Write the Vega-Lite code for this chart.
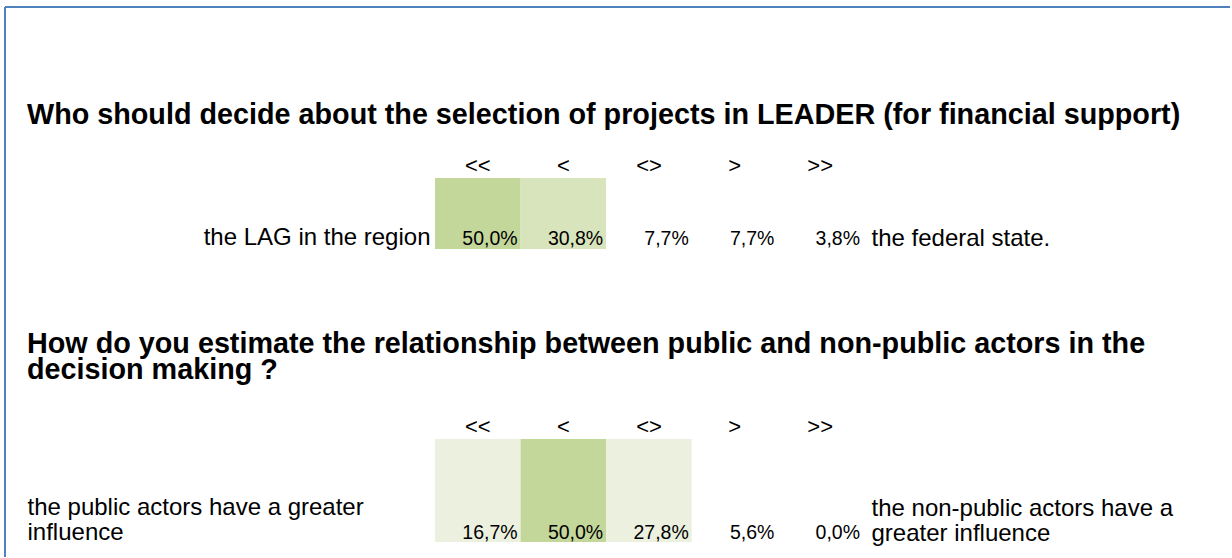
{
  "$schema": "https://vega.github.io/schema/vega-lite/v6.json",
  "background": "white",
  "padding": {"left": 4, "top": 6, "right": 0, "bottom": 0},
  "datasets": {
    "q1": [
      {"cat": "<<", "share": 0.5, "left": "the LAG in the region", "right": "the federal state."},
      {"cat": "<", "share": 0.308, "left": "the LAG in the region", "right": "the federal state."},
      {"cat": "<>", "share": 0.077, "left": "the LAG in the region", "right": "the federal state."},
      {"cat": ">", "share": 0.077, "left": "the LAG in the region", "right": "the federal state."},
      {"cat": ">>", "share": 0.038, "left": "the LAG in the region", "right": "the federal state."}
    ],
    "q2": [
      {"cat": "<<", "share": 0.167, "left": "the public actors have a greater|influence", "right": "the non-public actors have a|greater influence"},
      {"cat": "<", "share": 0.5, "left": "the public actors have a greater|influence", "right": "the non-public actors have a|greater influence"},
      {"cat": "<>", "share": 0.278, "left": "the public actors have a greater|influence", "right": "the non-public actors have a|greater influence"},
      {"cat": ">", "share": 0.056, "left": "the public actors have a greater|influence", "right": "the non-public actors have a|greater influence"},
      {"cat": ">>", "share": 0.0, "left": "the public actors have a greater|influence", "right": "the non-public actors have a|greater influence"}
    ]
  },
  "config": {
    "view": {"stroke": null},
    "scale": {"bandPaddingInner": 0, "bandPaddingOuter": 0},
    "axis": {"domain": false, "ticks": false, "tickSize": 0, "grid": false, "labelFont": "Liberation Sans", "labelColor": "#000000", "labelLimit": 1200},
    "title": {"font": "Liberation Sans", "color": "#000000", "fontWeight": "bold", "fontSize": 28.75, "anchor": "start", "frame": "group", "limit": 1400},
    "text": {"font": "Liberation Sans"},
    "locale": {"number": {"decimal": ",", "thousands": ".", "grouping": [3], "currency": ["", " €"]}}
  },
  "bounds": "flush",
  "spacing": 170,
  "vconcat": [
    {
      "width": 1,
      "height": 1,
      "data": {"values": [{}]},
      "layer": [
        {
          "mark": {"type": "rule", "color": "#4f81bd", "strokeWidth": 2},
          "encoding": {
            "x": {"datum": 0, "type": "quantitative", "scale": {"domain": [0, 1], "range": [-430, 795]}, "axis": null},
            "y": {"datum": 0, "type": "quantitative", "scale": {"domain": [0, 1], "range": [550, 0]}, "axis": null},
            "y2": {"datum": 1}
          }
        },
        {
          "mark": {"type": "rule", "color": "#4f81bd", "strokeWidth": 2},
          "encoding": {
            "x": {"datum": 0, "type": "quantitative", "scale": {"domain": [0, 1], "range": [-430, 795]}, "axis": null},
            "x2": {"datum": 1},
            "y": {"datum": 1, "type": "quantitative", "scale": {"domain": [0, 1], "range": [550, 0]}, "axis": null}
          }
        }
      ]
    },
    {
      "bounds": "flush",
      "spacing": 190,
      "vconcat": [
        {
          "width": 428,
          "height": 71,
          "data": {"name": "q1"},
          "title": {"text": "Who should decide about the selection of projects  in LEADER (for financial support)", "dx": -408, "baseline": "bottom", "offset": -5},
          "layer": [
            {
              "mark": {"type": "rect"},
              "encoding": {
                "x": {"field": "cat", "type": "ordinal", "sort": ["<<", "<", "<>", ">", ">>"], "title": null, "axis": {"orient": "top", "labelAngle": 0, "labelFontSize": 22, "labelPadding": 6, "labelBaseline": "alphabetic"}},
                "y": {"field": "left", "type": "nominal", "title": null, "axis": {"orient": "left", "labelAlign": "right", "labelBaseline": "alphabetic", "labelPadding": 5, "labelFontSize": 24, "labelOffset": 31.5}},
                "color": {"field": "share", "type": "quantitative", "legend": null, "scale": {"type": "threshold", "domain": [0.1, 0.3, 0.45], "range": ["#ffffff", "#ebf1de", "#d8e4bc", "#c4d79b"]}}
              }
            },
            {
              "mark": {"type": "text", "align": "right", "baseline": "alphabetic", "dx": -3, "dy": 31.5, "fontSize": 19.5, "color": "#000000"},
              "encoding": {
                "x": {"field": "cat", "type": "ordinal", "sort": ["<<", "<", "<>", ">", ">>"], "bandPosition": 1, "title": null, "axis": {"orient": "top", "labelAngle": 0, "labelFontSize": 22, "labelPadding": 6, "labelBaseline": "alphabetic"}},
                "y": {"field": "right", "type": "nominal", "title": null, "axis": {"orient": "right", "labelAlign": "left", "labelBaseline": "alphabetic", "labelPadding": 8, "labelFontSize": 24, "labelOffset": 31.5}},
                "text": {"field": "share", "type": "quantitative", "format": ".1%"}
              }
            }
          ],
          "resolve": {"scale": {"y": "independent"}}
        },
        {
          "width": 428,
          "height": 103,
          "data": {"name": "q2"},
          "title": {"text": ["How do you estimate the relationship between public and non-public actors in the", "decision making ?"], "lineHeight": 26, "dx": -408, "baseline": "bottom", "offset": 1},
          "layer": [
            {
              "mark": {"type": "rect"},
              "encoding": {
                "x": {"field": "cat", "type": "ordinal", "sort": ["<<", "<", "<>", ">", ">>"], "title": null, "axis": {"orient": "top", "labelAngle": 0, "labelFontSize": 22, "labelPadding": 6, "labelBaseline": "alphabetic"}},
                "y": {"field": "left", "type": "nominal", "title": null, "axis": {"orient": "left", "labelAlign": "left", "labelBaseline": "bottom", "labelPadding": 408, "labelFontSize": 24, "labelLineHeight": 25, "labelOffset": 29.5, "labelExpr": "split(datum.label, '|')"}},
                "color": {"field": "share", "type": "quantitative", "legend": null, "scale": {"type": "threshold", "domain": [0.1, 0.3, 0.45], "range": ["#ffffff", "#ebf1de", "#d8e4bc", "#c4d79b"]}}
              }
            },
            {
              "mark": {"type": "text", "align": "right", "baseline": "alphabetic", "dx": -3, "dy": 48.5, "fontSize": 19.5, "color": "#000000"},
              "encoding": {
                "x": {"field": "cat", "type": "ordinal", "sort": ["<<", "<", "<>", ">", ">>"], "bandPosition": 1, "title": null, "axis": {"orient": "top", "labelAngle": 0, "labelFontSize": 22, "labelPadding": 6, "labelBaseline": "alphabetic"}},
                "y": {"field": "right", "type": "nominal", "title": null, "axis": {"orient": "right", "labelAlign": "left", "labelBaseline": "bottom", "labelPadding": 8, "labelFontSize": 24, "labelLineHeight": 25, "labelOffset": 29.5, "labelExpr": "split(datum.label, '|')"}},
                "text": {"field": "share", "type": "quantitative", "format": ".1%"}
              }
            }
          ],
          "resolve": {"scale": {"y": "independent"}}
        }
      ]
    }
  ]
}
